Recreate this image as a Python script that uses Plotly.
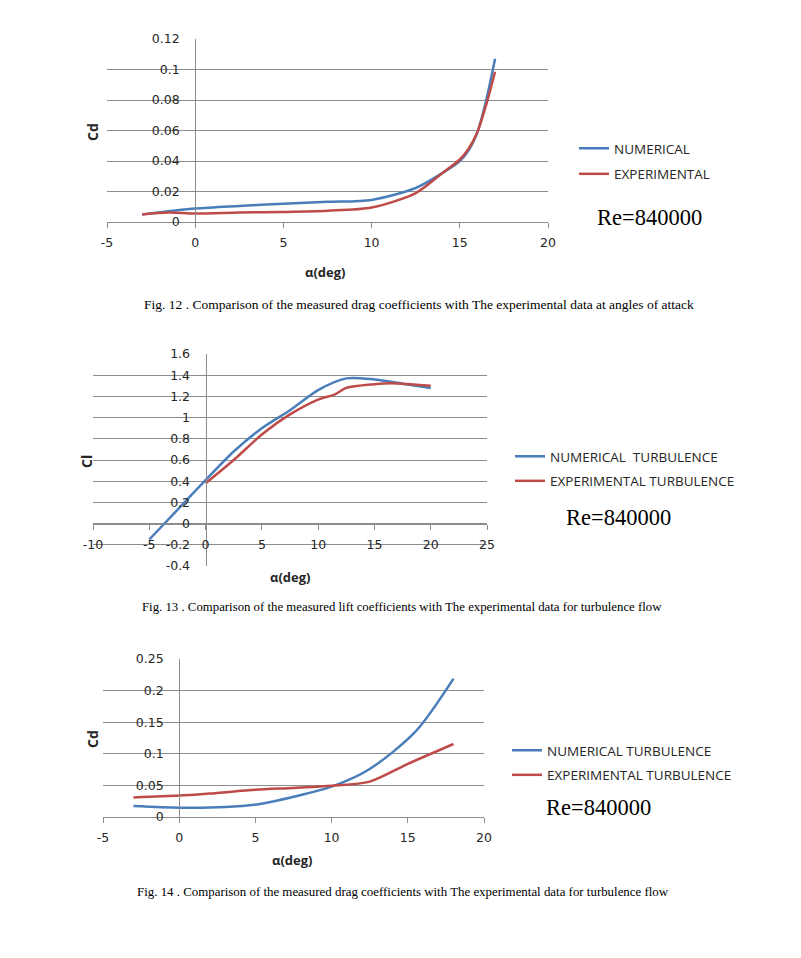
import plotly.graph_objects as go

# ---------------- data ----------------
# Fig 12 - drag coefficient
fig12_num_alpha = [-3, 0, 2.5, 5, 7.5, 10, 12.5, 14, 15, 15.5, 16, 16.5, 17]
fig12_num_cd = [0.005, 0.0088, 0.0105, 0.012, 0.0132, 0.0145, 0.0223, 0.032, 0.040, 0.047, 0.059, 0.080, 0.107]
fig12_exp_alpha = [-3, -1.5, 0, 2.5, 5, 7.5, 10, 12.5, 14, 15, 15.5, 16, 16.5, 17]
fig12_exp_cd = [0.005, 0.0062, 0.0055, 0.0062, 0.0066, 0.0074, 0.0095, 0.019, 0.032, 0.041, 0.048, 0.059, 0.077, 0.0985]

# Fig 13 - lift coefficient
fig13_num_alpha = [-5, -2.5, 0, 2.5, 5, 7.5, 10, 12.5, 15, 17.5, 20]
fig13_num_cl = [-0.15, 0.13, 0.41, 0.68, 0.90, 1.07, 1.26, 1.37, 1.36, 1.32, 1.28]
fig13_exp_alpha = [0, 2.5, 5, 7.5, 10, 11.5, 12.5, 15, 16.5, 20]
fig13_exp_cl = [0.38, 0.60, 0.84, 1.03, 1.17, 1.22, 1.28, 1.315, 1.325, 1.30]

# Fig 14 - drag coefficient, turbulence
fig14_num_alpha = [-3, 0, 3, 5.3, 7.5, 10, 12.5, 15.5, 18]
fig14_num_cd = [0.0174, 0.0148, 0.0158, 0.0206, 0.032, 0.048, 0.076, 0.135, 0.219]
fig14_exp_alpha = [-3, 0, 2, 5, 7.5, 10, 12.5, 15, 18]
fig14_exp_cd = [0.031, 0.034, 0.037, 0.043, 0.046, 0.0495, 0.056, 0.084, 0.1155]

# tick labels
fig12_xticks = [-5, 0, 5, 10, 15, 20]
fig12_xlabels = ["-5", "0", "5", "10", "15", "20"]
fig12_yticks = [0, 0.02, 0.04, 0.06, 0.08, 0.1, 0.12]
fig12_ylabels = ["0", "0.02", "0.04", "0.06", "0.08", "0.1", "0.12"]
fig13_xticks = [-10, -5, 0, 5, 10, 15, 20, 25]
fig13_xlabels = ["-10", "-5", "0", "5", "10", "15", "20", "25"]
fig13_yticks = [-0.4, -0.2, 0, 0.2, 0.4, 0.6, 0.8, 1, 1.2, 1.4, 1.6]
fig13_ylabels = ["-0.4", "-0.2", "0", "0.2", "0.4", "0.6", "0.8", "1", "1.2", "1.4", "1.6"]
fig14_xticks = [-5, 0, 5, 10, 15, 20]
fig14_xlabels = ["-5", "0", "5", "10", "15", "20"]
fig14_yticks = [0, 0.05, 0.1, 0.15, 0.2, 0.25]
fig14_ylabels = ["0", "0.05", "0.1", "0.15", "0.2", "0.25"]

legend12 = ["NUMERICAL", "EXPERIMENTAL"]
legend13 = ["NUMERICAL  TURBULENCE", "EXPERIMENTAL TURBULENCE"]
legend14 = ["NUMERICAL TURBULENCE", "EXPERIMENTAL TURBULENCE"]
re_label = "Re=840000"
captions = [
    "Fig. 12 . Comparison of the measured drag coefficients with The experimental data at angles of attack",
    "Fig. 13 . Comparison of the measured lift coefficients with The experimental data for turbulence flow",
    "Fig. 14 . Comparison of the measured drag coefficients with The experimental data for turbulence flow",
]

# ---------------- layout helpers ----------------
W, H = 801, 958
OFF = 8  # page body margin
BLUE = "#4A7EBB"
RED = "#BE4B48"
GRID = "#8C8C8C"
TXT = "#262626"
SANS = "Open Sans"
TICKFONT = "DejaVu Sans"
SERIF = "Liberation Serif"


def px_x(p):
    return (p - OFF) / W


def px_y(p):
    return 1 - (p - OFF) / H


def frac(v, r, d):
    return d[0] + (v - r[0]) / (r[1] - r[0]) * (d[1] - d[0])


panels = [
    dict(xr=[-5, 20], yr=[0, 0.12], xd=[px_x(107), px_x(548)], yd=[px_y(222), px_y(39)],
         xt=fig12_xticks, xl=fig12_xlabels, yt=fig12_yticks, yl=fig12_ylabels),
    dict(xr=[-10, 25], yr=[-0.4, 1.6], xd=[px_x(93), px_x(487)], yd=[px_y(566), px_y(354)],
         xt=fig13_xticks, xl=fig13_xlabels, yt=fig13_yticks, yl=fig13_ylabels),
    dict(xr=[-5, 20], yr=[0, 0.25], xd=[px_x(103), px_x(484)], yd=[px_y(817), px_y(659)],
         xt=fig14_xticks, xl=fig14_xlabels, yt=fig14_yticks, yl=fig14_ylabels),
]

fig = go.Figure()

series = [
    (fig12_num_alpha, fig12_num_cd, fig12_exp_alpha, fig12_exp_cd, legend12),
    (fig13_num_alpha, fig13_num_cl, fig13_exp_alpha, fig13_exp_cl, legend13),
    (fig14_num_alpha, fig14_num_cd, fig14_exp_alpha, fig14_exp_cd, legend14),
]

for i, (nx, ny, ex, ey, leg) in enumerate(series):
    sfx = "" if i == 0 else str(i + 1)
    lg = "legend" if i == 0 else "legend" + str(i + 1)
    fig.add_trace(go.Scatter(x=nx, y=ny, mode="lines", name=leg[0], legendgroup="n%d" % i,
                             line=dict(color=BLUE, width=2.5, shape="spline", smoothing=0.8),
                             xaxis="x" + sfx, yaxis="y" + sfx, legend=lg))
    fig.add_trace(go.Scatter(x=ex, y=ey, mode="lines", name=leg[1], legendgroup="e%d" % i,
                             line=dict(color=RED, width=2.5, shape="spline", smoothing=0.8),
                             xaxis="x" + sfx, yaxis="y" + sfx, legend=lg))

layout = dict(
    width=W, height=H,
    margin=dict(l=0, r=0, t=0, b=0, pad=0, autoexpand=False),
    paper_bgcolor="white", plot_bgcolor="white",
    font=dict(family=SANS, color=TXT),
)

for i, p in enumerate(panels):
    sfx = "" if i == 0 else str(i + 1)
    xpos = frac(0, p["yr"], p["yd"])   # x axis crosses at y = 0
    ypos = frac(0, p["xr"], p["xd"])   # y axis crosses at x = 0
    layout["xaxis" + sfx] = dict(
        domain=p["xd"], range=p["xr"], anchor="free", position=xpos,
        showline=True, linecolor=GRID, linewidth=1,
        ticks="outside", ticklen=5, tickcolor=GRID, tickwidth=1,
        tickvals=p["xt"], ticktext=p["xl"], ticklabelstandoff=4,
        showgrid=False, zeroline=False, automargin=False,
        tickfont=dict(family=TICKFONT, size=12.5, color=TXT),
    )
    layout["yaxis" + sfx] = dict(
        domain=p["yd"], range=p["yr"], anchor="free", position=ypos,
        showline=True, linecolor=GRID, linewidth=1,
        ticks="", tickvals=p["yt"], ticktext=p["yl"], ticklabelstandoff=13,
        showgrid=True, gridcolor=GRID, gridwidth=1, zeroline=False, automargin=False,
        tickfont=dict(family=TICKFONT, size=12.5, color=TXT),
    )

legend_pos = [(574, 133, 5), (510, 441, 4), (507, 735, 4)]
for i, (lx, ly, gap) in enumerate(legend_pos):
    key = "legend" if i == 0 else "legend" + str(i + 1)
    layout[key] = dict(x=px_x(lx), y=px_y(ly), xanchor="left", yanchor="top",
                       bgcolor="rgba(0,0,0,0)", borderwidth=0,
                       font=dict(family=SANS, size=13.5, color=TXT),
                       tracegroupgap=gap)

annotations = []
# axis titles
for (x, y, t) in [(93, 132, "Cd"), (86, 462, "Cl"), (92, 739, "Cd")]:
    annotations.append(dict(x=px_x(x), y=px_y(y), xref="paper", yref="paper", text="<b>" + t + "</b>",
                            xanchor="center", yanchor="middle",
                            textangle=-90, showarrow=False, font=dict(family=SANS, size=14, color=TXT)))
for (x, y) in [(325, 272), (290, 577), (292, 860)]:
    annotations.append(dict(x=px_x(x), y=px_y(y), xref="paper", yref="paper", text="<b>α(deg)</b>",
                            xanchor="center", yanchor="middle",
                            showarrow=False, font=dict(family=SANS, size=13, color=TXT)))
# Re labels
for (x, y) in [(649, 217), (618, 518), (598, 807)]:
    annotations.append(dict(x=px_x(x), y=px_y(y), xref="paper", yref="paper", text=re_label,
                            xanchor="center", yanchor="middle",
                            showarrow=False, font=dict(family=SERIF, size=22.5, color="black")))
# captions
for (x, y, s), cap in zip([(142, 305, 13.5), (140, 607, 12.8), (135, 892, 12.9)], captions):
    annotations.append(dict(x=px_x(x), y=px_y(y), xref="paper", yref="paper", text=cap,
                            xanchor="left", yanchor="middle",
                            showarrow=False, font=dict(family=SERIF, size=s, color="black")))
layout["annotations"] = annotations

fig.update_layout(**layout)
fig.write_html("out.html")
